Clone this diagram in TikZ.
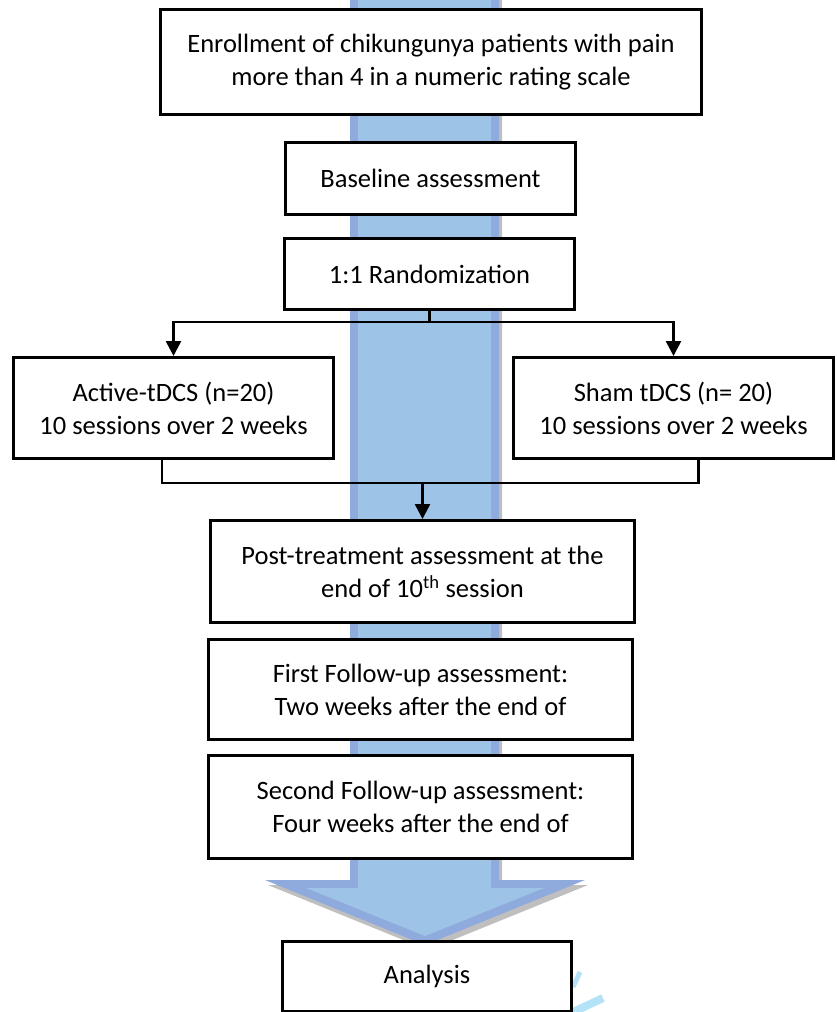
\documentclass[tikz,border=0pt]{standalone}
\usepackage{fontspec}
\setmainfont{Carlito}
\usetikzlibrary{arrows.meta}
\definecolor{arrowlight}{HTML}{9DC3E6}
\definecolor{arrowdark}{HTML}{8FAADC}
\definecolor{arrowshadow}{HTML}{BFBFBF}
\definecolor{faintcyan}{HTML}{B4E2F7}
\tikzset{
  flowbox/.style={draw, line width=3pt, fill=white, inner sep=0pt, align=center,
    font=\fontsize{26.5}{33}\selectfont},
  link/.style={line width=2.5pt},
  tiplink/.style={line width=2.5pt, -{Triangle[width=15pt,length=15pt]}},
}
\begin{document}
\begin{tikzpicture}[x=1pt,y=-1pt]
\useasboundingbox (0,0) rectangle (837,1012);
% big background arrow: shadow, dark outline, light interior
\fill[arrowshadow] (353,-10) -- (353,885) -- (268,885) -- (428,950) -- (588,885) -- (502,885) -- (502,-10) -- cycle;
\fill[arrowdark] (350,-10) -- (350,880) -- (265,880) -- (425,945) -- (585,880) -- (499,880) -- (499,-10) -- cycle;
\fill[arrowlight] (358,-10) -- (358,888) -- (306,888) -- (425,936) -- (544,888) -- (491,888) -- (491,-10) -- cycle;
% faint strokes at bottom right
\draw[faintcyan, line width=5pt] (573,987) -- (580,972);
\draw[faintcyan, line width=8pt] (571,1013) -- (603,998);
% boxes
\node[flowbox, minimum width=541pt, minimum height=105pt] (enroll) at (431,62)
  {Enrollment of chikungunya patients with pain\\more than 4 in a numeric rating scale};
\node[flowbox, minimum width=290pt, minimum height=72pt] (base) at (430.5,178.5)
  {Baseline assessment};
\node[flowbox, minimum width=290pt, minimum height=71pt] (rand) at (429.5,274)
  {1:1 Randomization};
\node[flowbox, minimum width=320pt, minimum height=101pt] (active) at (173.5,408)
  {Active-tDCS (n=20)\\10 sessions over 2 weeks};
\node[flowbox, minimum width=320pt, minimum height=101pt] (sham) at (673.5,408)
  {Sham tDCS (n= 20)\\10 sessions over 2 weeks};
\node[flowbox, minimum width=424pt, minimum height=102pt] (post) at (422.5,571.5)
  {Post-treatment assessment at the\\end of 10\textsuperscript{th} session};
\node[flowbox, minimum width=424pt, minimum height=100pt] (first) at (420.5,689.5)
  {First Follow-up assessment:\\Two weeks after the end of};
\node[flowbox, minimum width=424pt, minimum height=103pt] (second) at (420.5,807)
  {Second Follow-up assessment:\\Four weeks after the end of};
\node[flowbox, minimum width=289pt, minimum height=70pt] (analysis) at (427,976)
  {Analysis};
% split connectors
\coordinate (sp) at (429.5,322);
\draw[link] (rand.south) -- (sp);
\draw[tiplink] (sp) -| (active.north);
\draw[tiplink] (sp) -| (sham.north);
% merge connectors
\coordinate (ma) at ([xshift=-11.5pt]active.south);
\coordinate (ms) at ([xshift=25pt]sham.south);
\coordinate (mj) at (422.5,483);
\draw[link] (ma) |- (mj);
\draw[link] (ms) |- (mj);
\draw[tiplink] (mj) -- (post.north);
\end{tikzpicture}
\end{document}
